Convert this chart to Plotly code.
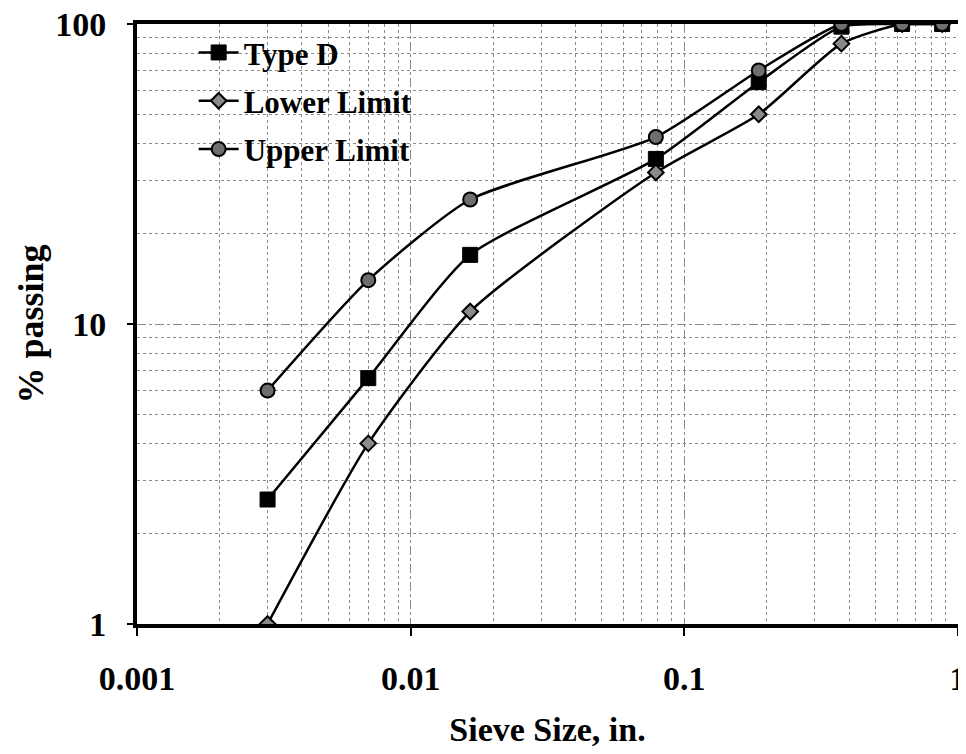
import plotly.graph_objects as go

sieve_in = [0.003, 0.007, 0.0165, 0.0787, 0.187, 0.375, 0.625, 0.875]
type_d = [2.6, 6.6, 17.0, 35.5, 64.0, 98.0, 100.0, 100.0]
lower_limit = [1.0, 4.0, 11.0, 32.0, 50.0, 86.0, 100.0, 100.0]
upper_limit = [6.0, 14.0, 26.0, 42.0, 70.0, 100.0, 100.0, 100.0]

x_ticks = [0.001, 0.01, 0.1, 1]
x_ticktext = ["0.001", "0.01", "0.1", "1"]
y_ticks = [1, 10, 100]
y_ticktext = ["1", "10", "100"]

font_family = "Liberation Serif, Times New Roman, serif"

fig = go.Figure()
fig.add_trace(go.Scatter(
    x=sieve_in, y=type_d, name="<b>Type D</b>", mode="lines+markers", legendgroup="a",
    line=dict(color="black", width=2.5, shape="spline", smoothing=0.6),
    marker=dict(symbol="square", size=15, color="black", line=dict(color="black", width=1)),
))
fig.add_trace(go.Scatter(
    x=sieve_in, y=lower_limit, name="<b>Lower Limit</b>", mode="lines+markers", legendgroup="b",
    line=dict(color="black", width=2.5, shape="spline", smoothing=0.6),
    marker=dict(symbol="diamond", size=12, color="#8a8a8a", line=dict(color="black", width=2)),
))
fig.add_trace(go.Scatter(
    x=sieve_in, y=upper_limit, name="<b>Upper Limit</b>", mode="lines+markers", legendgroup="c",
    line=dict(color="black", width=2.5, shape="spline", smoothing=0.6),
    marker=dict(symbol="circle", size=14, color="#6e6e6e", line=dict(color="black", width=2)),
))

grid_color = "#8a8a8a"
fig.update_xaxes(
    type="log", range=[-3, 0], automargin=False, ticklabeloverflow="allow",
    tickvals=x_ticks, ticktext=x_ticktext,
    ticks="outside", ticklen=8, tickwidth=1.5, tickcolor="black",
    ticklabelstandoff=13,
    showline=True, linewidth=4, linecolor="black", mirror=True,
    showgrid=True, gridcolor=grid_color, gridwidth=1, griddash="dashdot",
    minor=dict(showgrid=True, gridcolor=grid_color, gridwidth=1, griddash="dot",
               tickvals=[a * b for a in [0.001, 0.01, 0.1] for b in range(2, 10)]),
    tickfont=dict(family=font_family, size=34, color="black", weight="bold"),
    title=dict(text="<b>Sieve Size, in.</b>", standoff=22,
               font=dict(family=font_family, size=34, color="black")),
    zeroline=False,
)
fig.update_yaxes(
    type="log", range=[0, 2], automargin=False, ticklabeloverflow="allow",
    tickvals=y_ticks, ticktext=y_ticktext,
    ticks="outside", ticklen=6, tickwidth=1.5, tickcolor="black",
    ticklabelstandoff=14,
    showline=True, linewidth=4, linecolor="black", mirror=True,
    showgrid=True, gridcolor=grid_color, gridwidth=1, griddash="dashdot",
    minor=dict(showgrid=True, gridcolor=grid_color, gridwidth=1, griddash="dot",
               tickvals=[a * b for a in [1, 10] for b in range(2, 10)]),
    tickfont=dict(family=font_family, size=34, color="black", weight="bold"),
    title=dict(text="<b>% passing</b>", standoff=2,
               font=dict(family=font_family, size=36, color="black")),
    zeroline=False,
)
fig.update_layout(
    width=958, height=746,
    margin=dict(l=129, r=8, t=16, b=130),
    paper_bgcolor="white", plot_bgcolor="white",
    showlegend=True,
    legend=dict(x=0.069, y=0.997, xanchor="left", yanchor="top",
                bgcolor="rgba(255,255,255,0)", borderwidth=0,
                font=dict(family=font_family, size=31, color="black"),
                itemwidth=40, tracegroupgap=5),
)
fig.write_html("out.html")
